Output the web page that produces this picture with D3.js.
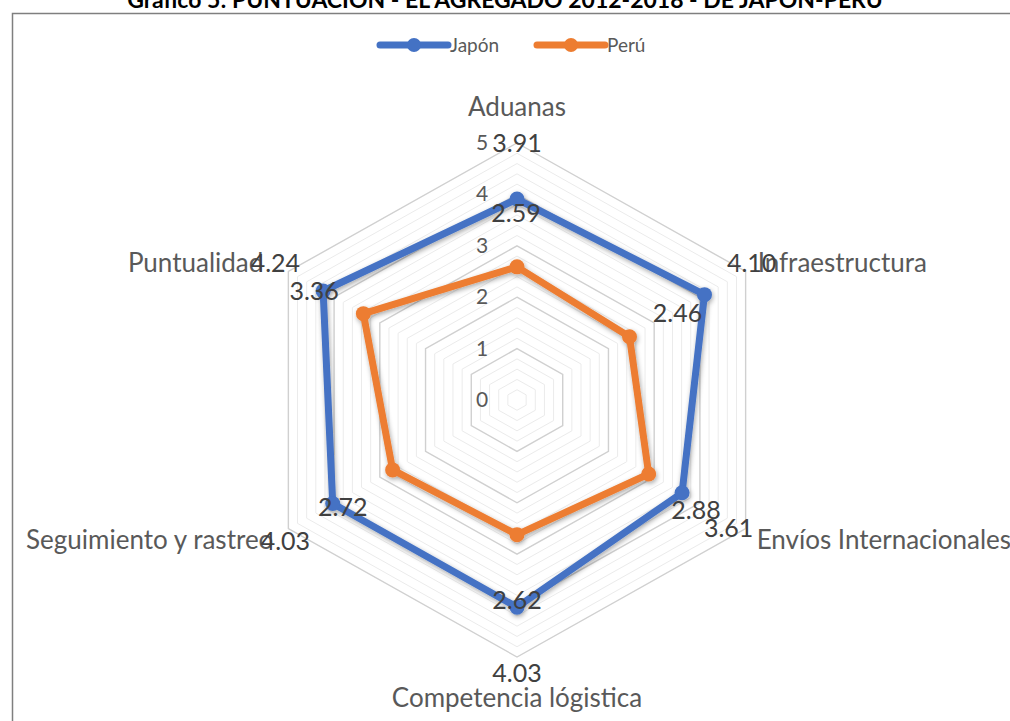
<!DOCTYPE html>
<html>
<head>
<meta charset="utf-8">
<script src="https://cdn.jsdelivr.net/npm/d3@7"></script>
<style>
  html, body { margin: 0; padding: 0; background: #fff; }
  svg { display: block; }
</style>
</head>
<body>
<svg id="chart" width="1010" height="721"></svg>
<script>
// ---------- data ----------
const categories = ["Aduanas", "Infraestructura", "Envíos Internacionales", "Competencia lógistica", "Seguimiento y rastreo", "Puntualidad"];
const japon = [3.91, 4.10, 3.61, 4.03, 4.03, 4.24];
const peru  = [2.59, 2.46, 2.88, 2.62, 2.72, 3.36];
const seriesNames = ["Japón", "Perú"];
const tickValues = [0, 1, 2, 3, 4, 5];
const title = "Gráfico 5: PUNTUACIÓN - EL AGREGADO 2012-2018 - DE JAPÓN-PERÚ";

// ---------- layout ----------
const cx = 517, cy = 400;
const rx = 264, ry = 257;
const colors = ["#4472C4", "#ED7D31"];
const font = "Lato, 'Open Sans', sans-serif";

const svg = d3.select("#chart");

const r = d3.scaleLinear().domain([0, 5]).range([0, 1]);
const angle = d3.scaleLinear().domain([0, categories.length]).range([0, 2 * Math.PI]);

function pos(i, v) {
  const a = angle(i);
  return [cx + rx * r(v) * Math.sin(a), cy - ry * r(v) * Math.cos(a)];
}

const defs = svg.append("defs");
const f = defs.append("filter").attr("id", "glow").attr("x", "-10%").attr("y", "-10%").attr("width", "120%").attr("height", "120%");
f.append("feGaussianBlur").attr("in", "SourceAlpha").attr("stdDeviation", 2.5).attr("result", "b");
f.append("feOffset").attr("in", "b").attr("dx", 1).attr("dy", 2).attr("result", "o");
f.append("feComponentTransfer").attr("in", "o").attr("result", "s")
  .append("feFuncA").attr("type", "linear").attr("slope", 0.35);
const m = f.append("feMerge");
m.append("feMergeNode").attr("in", "s");
m.append("feMergeNode").attr("in", "SourceGraphic");

// frame
svg.append("rect").attr("x", 12.5).attr("y", 13.5).attr("width", 1000).attr("height", 720)
  .attr("fill", "#fff").attr("stroke", "#7f7f7f").attr("stroke-width", 1.5);

// title (cut at top as in the reference)
svg.append("text").attr("x", 505).attr("y", 8)
  .attr("text-anchor", "middle").attr("font-family", font).attr("font-weight", "bold")
  .attr("font-size", 23).attr("fill", "#000").text(title);

// grid rings (minor every 0.2, major every 1)
const ringVals = d3.range(0, 5.0001, 0.2).map(v => +v.toFixed(1)).filter(v => v > 0);
const isMajor = v => Math.abs(v - Math.round(v)) < 1e-6;
const ringLine = d3.line().curve(d3.curveLinearClosed);
svg.append("g").selectAll("path").data(ringVals).join("path")
  .attr("d", v => ringLine(categories.map((c, i) => pos(i, v))))
  .attr("fill", "none")
  .attr("stroke", v => isMajor(v) ? "#d0d0d0" : "#ebebeb")
  .attr("stroke-width", v => isMajor(v) ? 1.4 : 1);

// tick labels
svg.append("g").selectAll("text").data(tickValues).join("text")
  .attr("x", cx - 35).attr("y", v => pos(0, v)[1] + 7)
  .attr("text-anchor", "middle").attr("font-family", font).attr("font-size", 21)
  .attr("fill", "#595959").text(v => v);

// series
const seriesData = [japon, peru];
const lineGen = d3.line().curve(d3.curveLinearClosed);
seriesData.forEach((vals, s) => {
  const g = svg.append("g").attr("filter", "url(#glow)");
  g.append("path").attr("d", lineGen(vals.map((v, i) => pos(i, v))))
    .attr("fill", "none").attr("stroke", colors[s]).attr("stroke-width", 7).attr("stroke-linejoin", "round");
  g.selectAll("circle").data(vals).join("circle")
    .attr("cx", (v, i) => pos(i, v)[0]).attr("cy", (v, i) => pos(i, v)[1])
    .attr("r", 7.5).attr("fill", colors[s]);
});

// category labels (placed from the outer ring vertex)
const catPlace = [
  { dx: 0,  dy: -27, anchor: "middle" },
  { dx: 12, dy: 0,   anchor: "start" },
  { dx: 11, dy: 20,  anchor: "start" },
  { dx: 0,  dy: 50,  anchor: "middle" },
  { dx: -15, dy: 20, anchor: "end" },
  { dx: -25, dy: 0,  anchor: "end" }
];
svg.append("g").selectAll("text").data(categories).join("text")
  .attr("x", (c, i) => pos(i, 5)[0] + catPlace[i].dx)
  .attr("y", (c, i) => pos(i, 5)[1] + catPlace[i].dy)
  .attr("text-anchor", (c, i) => catPlace[i].anchor)
  .attr("font-family", font).attr("font-size", 26).attr("fill", "#595959")
  .text(c => c);

// data labels
const japPlace = [[0, 9], [6, 0], [-17, 8], [0, 25], [-3, 21], [-13, 0]]; // relative to outer vertex
const peruPlace = [[-1, 23], [-27, 27], [14, 26], [0, 2], [10, 12], [-9, 9]]; // relative to Japan point
svg.append("g").selectAll("text").data(japon).join("text")
  .attr("x", (v, i) => pos(i, 5)[0] + japPlace[i][0])
  .attr("y", (v, i) => pos(i, 5)[1] + japPlace[i][1])
  .attr("text-anchor", "middle").attr("font-family", font).attr("font-size", 25).attr("fill", "#404040")
  .text(v => v.toFixed(2));
svg.append("g").selectAll("text").data(peru).join("text")
  .attr("x", (v, i) => pos(i, japon[i])[0] + peruPlace[i][0])
  .attr("y", (v, i) => pos(i, japon[i])[1] + peruPlace[i][1])
  .attr("text-anchor", "middle").attr("font-family", font).attr("font-size", 25).attr("fill", "#404040")
  .text(v => v.toFixed(2));

// legend
const legX = [380, 537];
const lg = svg.append("g");
seriesNames.forEach((n, s) => {
  const x0 = legX[s];
  lg.append("line").attr("x1", x0).attr("x2", x0 + 68).attr("y1", 45).attr("y2", 45)
    .attr("stroke", colors[s]).attr("stroke-width", 7).attr("stroke-linecap", "round");
  lg.append("circle").attr("cx", x0 + 34).attr("cy", 45).attr("r", 7).attr("fill", colors[s]);
  lg.append("text").attr("x", x0 + 70).attr("y", 52).attr("font-family", font).attr("font-size", 19)
    .attr("fill", "#595959").text(n);
});
</script>
</body>
</html>
